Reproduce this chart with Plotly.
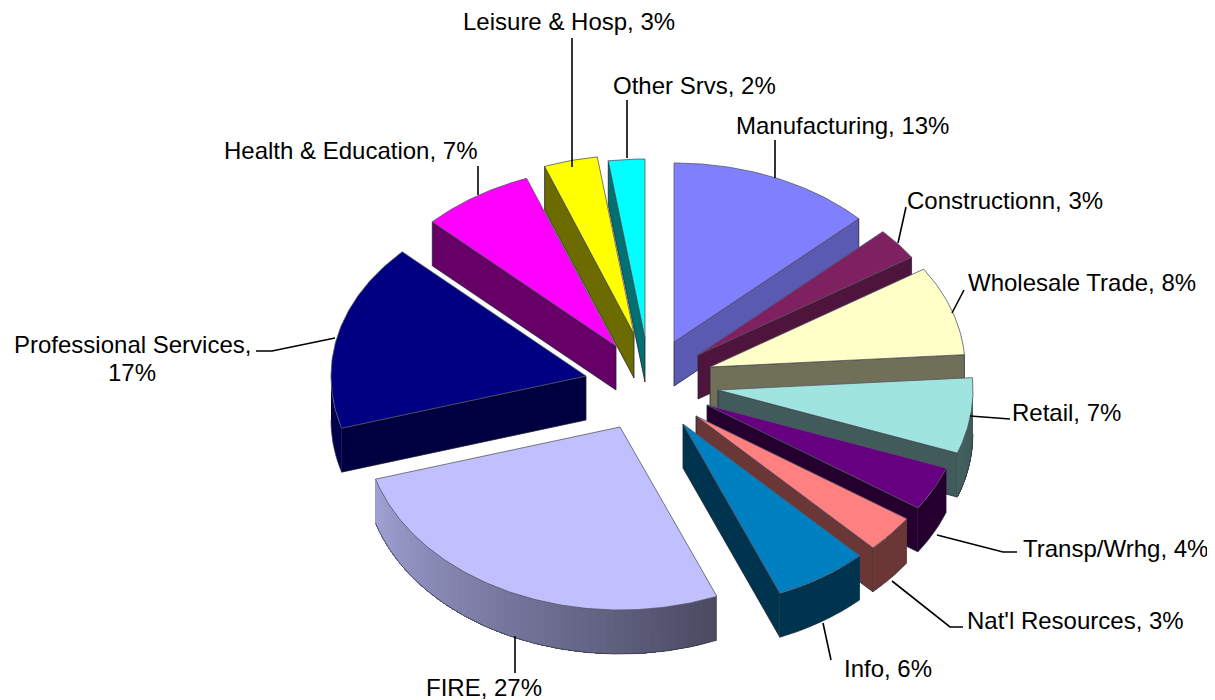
import math
import plotly.graph_objects as go

# ---- data -----------------------------------------------------------------
categories = ["Manufacturing", "Constructionn", "Wholesale Trade", "Retail", "Transp/Wrhg",
              "Nat'l Resources", "Info", "FIRE", "Professional Services",
              "Health & Education", "Leisure & Hosp", "Other Srvs"]
values = [12.9, 2.9, 8.1, 6.7, 3.9, 3.3, 6.0, 26.6, 16.8, 7.1, 3.4, 2.3]
shown_pct = [13, 3, 8, 7, 4, 3, 6, 27, 17, 7, 3, 2]

# ---- styles ---------------------------------------------------------------
colors = ["#8080FF", "#7F2060", "#FFFFC8", "#A0E4E0", "#660080", "#FF8080",
          "#0080C0", "#C0C0FF", "#000080", "#FF00FF", "#FFFF00", "#00FFFF"]
wall_shade = [0.70, 0.62, 0.44, 0.40, 0.36, 0.42, 0.40, 0.40, 0.50, 0.40, 0.42, 0.44]
rim_shade = [(0.7, 0.7), (0.6, 0.6), (0.44, 0.44), (0.40, 0.42), (0.36, 0.36), (0.42, 0.42),
             (0.40, 0.40), (0.38, 0.84), (0.6, 0.6), (0.5, 0.5), (0.5, 0.5), (0.5, 0.5)]
CX, CY = 650, 386
RX, RY_BACK, RY_FRONT, DEPTH = 255, 179, 183, 44
explode = [(24, -44), (48, -31), (60, -19), (68, 4), (57, 19), (46, 30), (33, 38), (-30, 41),
           (-64, -10), (-34, -40), (-16, -52), (-5, -48)]
draw_order = [11, 10, 9, 0, 1, 2, 3, 4, 5, 6, 8, 7]
EDGE = "#555566"
PAGE_MARGIN = 8  # the page body's default margin; the axes are shifted so pixels line up


def shade(hex_color, f):
    r, g, b = (int(hex_color[i:i + 2], 16) for i in (1, 3, 5))
    return f"rgb({r * f:.0f},{g * f:.0f},{b * f:.0f})"


def poly(xs, ys, fill, line=EDGE, width=0.8):
    return go.Scatter(x=xs + xs[:1], y=ys + ys[:1], mode="lines", fill="toself", fillcolor=fill,
                      line=dict(color=line, width=width), hoverinfo="skip", showlegend=False)


def flat(xs, ys, fill):
    return go.Scatter(x=xs + xs[:1], y=ys + ys[:1], mode="none", fill="toself", fillcolor=fill,
                      hoverinfo="skip", showlegend=False)


fig = go.Figure()
total = sum(values)
bounds = [0.0]
for v in values:
    bounds.append(bounds[-1] + v / total * 360)


def rim_pt(ax, ay, deg):
    t = math.radians(deg)
    c = math.cos(t)
    return ax + RX * math.sin(t), ay - (RY_BACK if c > 0 else RY_FRONT) * c


for i in draw_order:
    a0, a1 = bounds[i], bounds[i + 1]
    ax, ay = CX + explode[i][0], CY + explode[i][1]
    col = colors[i]
    wall = shade(col, wall_shade[i])
    # radial cut faces that face the viewer
    if 0 < a1 < 180:
        x, y = rim_pt(ax, ay, a1)
        fig.add_trace(poly([ax, x, x, ax], [ay, y, y + DEPTH, ay + DEPTH], wall, "#222233"))
    if a0 > 180:
        x, y = rim_pt(ax, ay, a0)
        fig.add_trace(poly([ax, x, x, ax], [ay, y, y + DEPTH, ay + DEPTH], wall, "#222233"))
    # outer wall: overlapping layers, each reaching the far end, so no seams show
    lo, hi = max(a0, 90), min(a1, 270)
    if hi > lo:
        s0, s1 = rim_shade[i]
        n = 48 if s0 != s1 else 1
        steps = max(4, int((hi - lo) * 1.5))
        all_pts = [rim_pt(ax, ay, lo + (hi - lo) * j / steps) for j in range(steps + 1)]
        for k in range(n):
            start = int(steps * k / n)
            xs = [p[0] for p in all_pts[start:]]
            ys = [p[1] for p in all_pts[start:]]
            c = shade(col, s0 + (s1 - s0) * (k + 0.5) / n)
            fig.add_trace(flat(xs + xs[::-1], ys + [q + DEPTH for q in ys[::-1]], c))
        fig.add_trace(go.Scatter(x=[p[0] for p in all_pts], y=[p[1] + DEPTH for p in all_pts],
                                 mode="lines", line=dict(color="#333344", width=0.7),
                                 hoverinfo="skip", showlegend=False))
    # top face
    steps = max(4, int((a1 - a0) * 1.5))
    pts = [rim_pt(ax, ay, a0 + (a1 - a0) * j / steps) for j in range(steps + 1)]
    fig.add_trace(poly([ax] + [p[0] for p in pts], [ay] + [p[1] for p in pts], col))

# ---- leader lines and labels ----------------------------------------------
leaders = [
    [(775, 178), (775, 140)],
    [(898, 243), (906, 207)],
    [(952, 313), (964, 290)],
    [(970, 416), (1010, 419)],
    [(937, 535), (1003, 552), (1017, 552)],
    [(892, 581), (950, 627), (963, 627)],
    [(823, 623), (831, 660)],
    [(515, 636), (515, 673)],
    [(335, 338), (272, 351), (256, 351)],
    [(478, 195), (478, 166)],
    [(572, 167), (572, 38)],
    [(627, 158), (627, 100)],
]
label_pos = [(842, 125), (1005, 200), (1082, 282), (1066, 412), (1115, 548), (1075, 620),
             (888, 668), (484, 687), (132, 344), (351, 150), (569, 21), (694, 85)]
second_line = {"Professional Services": (132, 372)}

for seg in leaders:
    fig.add_trace(go.Scatter(x=[p[0] for p in seg], y=[p[1] for p in seg], mode="lines",
                             line=dict(color="black", width=1.6), hoverinfo="skip", showlegend=False))

font = dict(family="Liberation Sans", size=24, color="black")
for name, pct, (lx, ly) in zip(categories, shown_pct, label_pos):
    if name in second_line:
        fig.add_annotation(x=lx, y=ly, text=f"{name},", showarrow=False, font=font)
        sx, sy = second_line[name]
        fig.add_annotation(x=sx, y=sy, text=f"{pct}%", showarrow=False, font=font)
    else:
        fig.add_annotation(x=lx, y=ly, text=f"{name}, {pct}%", showarrow=False, font=font)

fig.update_layout(
    width=1215, height=700, margin=dict(l=0, r=0, t=0, b=0),
    paper_bgcolor="white", plot_bgcolor="white", showlegend=False,
    xaxis=dict(range=[PAGE_MARGIN, 1215 + PAGE_MARGIN], visible=False, fixedrange=True),
    yaxis=dict(range=[700 + PAGE_MARGIN, PAGE_MARGIN], visible=False, fixedrange=True),
)
fig.write_html("out.html", config={"displayModeBar": False})
